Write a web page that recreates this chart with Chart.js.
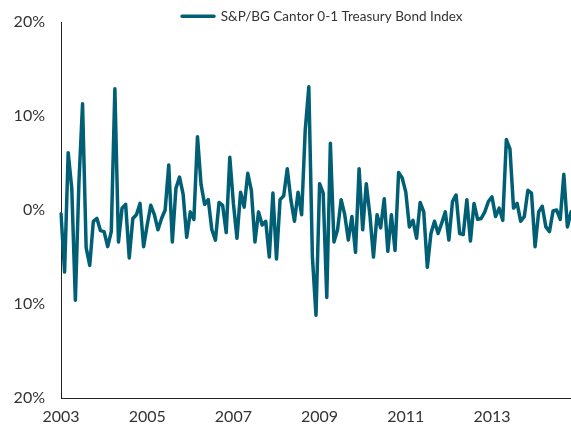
<!DOCTYPE html>
<html>
<head>
<meta charset="utf-8">
<script src="https://cdn.jsdelivr.net/npm/chart.js@4.4.0/dist/chart.umd.min.js"></script>
<style>
  html, body { margin: 0; padding: 0; background: #ffffff; }
  #wrap { width: 571px; height: 427px; position: relative; }
</style>
</head>
<body>
<div id="wrap"><canvas id="c" width="571" height="427"></canvas></div>
<script>
// ---- data ----
const seriesName = "S&P/BG Cantor 0-1 Treasury Bond Index";
const startYear = 2003;
const monthCount = 143; // Jan 2003 .. Nov 2014
const xTickYears = [2003, 2005, 2007, 2009, 2011, 2013];
const yTicks = [-20, -10, 0, 10, 20];

const values2003_2005 = [
  -0.4, -6.6, 6.1, 2.3, -9.6, 3.0, 11.3, -4.0, -5.9, -1.2, -0.9, -2.2,
  -2.3, -3.9, -2.3, 12.9, -3.4, 0.2, 0.6, -5.1, -0.9, -0.5, 0.7, -3.9,
  -1.6, 0.5, -0.5, -2.1, -0.9, 0.0, 4.8, -3.4, 2.3, 3.5, 1.7, -2.9
];
const values2006_2008 = [
  -0.2, -1.0, 7.8, 2.7, 0.6, 1.1, -2.1, -3.2, 0.8, 0.5, -2.4, 5.6,
  0.7, -3.0, 1.9, 0.3, 3.9, 2.1, -3.4, -0.2, -1.6, -1.2, -5.0, 1.8,
  -5.2, 1.1, 1.5, 4.4, 1.1, -1.2, 1.9, -0.5, 8.5, 13.1, -5.0, -11.2
];
const values2009_2011 = [
  2.8, 1.8, -9.3, 7.1, -3.4, -2.1, 1.1, -0.5, -3.2, -0.7, -4.5, 4.4,
  -2.1, 2.8, -0.5, -5.0, -0.5, -1.9, 1.2, -4.4, -0.5, -4.3, 4.0, 3.4,
  1.9, -1.8, -1.1, -3.0, 0.8, -0.2, -6.1, -2.5, -1.2, -2.5, -1.4, -0.2
];
const values2012_2014 = [
  -3.2, 0.9, 1.6, -2.5, -2.6, 1.1, -3.3, 0.7, -1.0, -0.9, -0.2, 0.9,
  1.4, -0.7, 0.2, -1.1, 7.5, 6.5, 0.2, 0.7, -1.2, -0.7, 2.1, 1.8,
  -3.9, -0.2, 0.4, -1.8, -2.3, -0.1, 0.0, -1.0, 3.8, -1.8, -0.2
];
const values = [].concat(values2003_2005, values2006_2008, values2009_2011, values2012_2014);

const months = [];
for (let i = 0; i < monthCount; i++) {
  const y = startYear + Math.floor(i / 12);
  const m = (i % 12) + 1;
  months.push(y + "-" + (m < 10 ? "0" + m : m));
}

// ---- style ----
const lineColor = "#005F74";
const textColor = "#333333";
const axisColor = "#222222";
const fontFamily = "Lato, 'Open Sans', sans-serif";

const legendPlacer = {
  id: "legendPlacer",
  afterLayout(chart) {
    const lg = chart.legend;
    if (!lg || !lg.legendHitBoxes || !lg.legendHitBoxes.length) return;
    const itemW = lg.legendHitBoxes[0].width;
    const curX = (lg.left + lg.right - itemW) / 2;
    const dx = 182 - curX;
    const dy = 9.5 - lg.top;
    lg.left += dx; lg.right += dx;
    lg.top += dy; lg.bottom += dy;
  }
};

new Chart(document.getElementById("c"), {
  type: "line",
  data: {
    labels: months,
    datasets: [{
      label: seriesName,
      data: values,
      borderColor: lineColor,
      backgroundColor: lineColor,
      borderWidth: 3.5,
      borderCapStyle: "round",
      borderJoinStyle: "round",
      pointRadius: 0,
      pointHoverRadius: 0,
      tension: 0,
      fill: false
    }]
  },
  options: {
    responsive: false,
    animation: false,
    devicePixelRatio: 1,
    layout: { padding: { top: -1.5, left: 12, right: 0, bottom: 0 } },
    plugins: {
      tooltip: { enabled: false },
      legend: {
        display: true,
        position: "top",
        labels: {
          boxWidth: 32,
          boxHeight: 0,
          padding: 0,
          color: textColor,
          font: { family: fontFamily, size: 13.5 }
        }
      }
    },
    scales: {
      x: {
        type: "category",
        offset: false,
        grid: { display: false, drawTicks: false },
        border: { display: true, color: axisColor, width: 1 },
        afterFit: function(axis) { axis.height = 29; axis.paddingLeft = 0; axis.paddingRight = 0; },
        ticks: {
          autoSkip: false,
          maxRotation: 0,
          minRotation: 0,
          padding: 9.5,
          color: textColor,
          font: { family: fontFamily, size: 16 },
          callback: function(val, idx) {
            const lab = months[idx];
            const yr = parseInt(lab.slice(0, 4), 10);
            return (lab.slice(5) === "01" && xTickYears.indexOf(yr) >= 0) ? String(yr) : "";
          }
        }
      },
      y: {
        min: yTicks[0],
        max: yTicks[yTicks.length - 1],
        grid: { display: false, drawTicks: false },
        border: { display: true, color: axisColor, width: 1 },
        afterBuildTicks: function(axis) { axis.ticks = yTicks.map(v => ({ value: v })); },
        afterFit: function(axis) { axis.width = 49; axis.paddingTop = 0; axis.paddingBottom = 0; },
        ticks: {
          padding: 16,
          color: textColor,
          font: { family: fontFamily, size: 16 },
          callback: function(v) { return Math.abs(v) + "%"; }
        }
      }
    }
  },
  plugins: [legendPlacer]
});
</script>
</body>
</html>
